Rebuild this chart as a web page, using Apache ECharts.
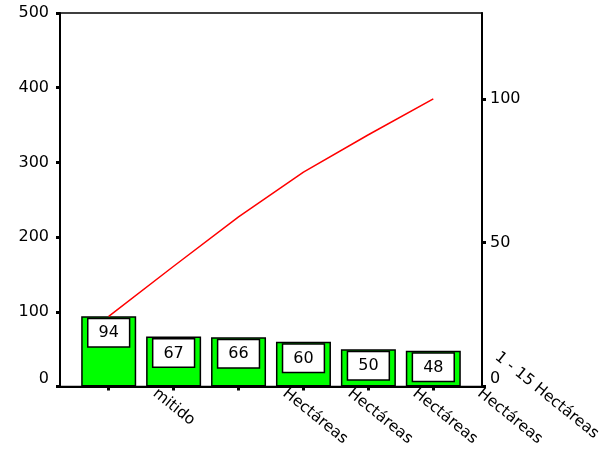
<!DOCTYPE html>
<html><head><meta charset="utf-8">
<script src="https://cdn.jsdelivr.net/npm/echarts@6/dist/echarts.min.js"></script>
<style>html,body{margin:0;padding:0;background:#fff}#c{width:604px;height:449px}</style>
</head><body><div id="c"></div>
<script>
// ---- data ----
const barValues = [94, 67, 66, 60, 50, 48];
const cumulativeValues = [94, 161, 227, 287, 337, 385];
const categoryLabels = ["", "mitido", "", "Hectáreas", "Hectáreas", "Hectáreas", "Hectáreas"];
const extraLabels = ["1 - 15 Hectáreas"];
const leftTicks = [0, 100, 200, 300, 400, 500];
const rightTicks = [0, 50, 100];
const total = 385;

// ---- layout / style ----
const FONT = 'DejaVu Sans';
const LABEL_SHIFT = 0.29;
const xMin = -0.75, xMax = 5.75;
const unitPx = 422 / (xMax - xMin);
const xMax2 = xMin + 544 / unitPx;
const EXTRA_AT = 6.0;

const chart = echarts.init(document.getElementById('c'), null, {renderer: 'canvas'});
const zeroRaise = (v) => v === 0 ? '{z|0}' : String(v);
const tickStyle = {color: '#000', width: 3};
const axisLineStyle = {color: '#000', width: 2};

const option = {
  animation: false,
  backgroundColor: '#fff',
  grid: [
    {left: 60, right: 122, top: 13, bottom: 62, show: true, borderColor: '#000', borderWidth: 1.5, backgroundColor: '#fff'},
    {left: 60, right: 0, top: 13, bottom: 62}
  ],
  xAxis: [
    {type: 'value', gridIndex: 0, min: xMin, max: xMax, splitLine: {show: false},
      axisLine: {show: true, onZero: false, lineStyle: axisLineStyle},
      axisTick: {show: true, customValues: barValues.map((_, i) => i), length: 4, lineStyle: tickStyle},
      axisLabel: {
        customValues: categoryLabels.map((s, i) => s ? i - LABEL_SHIFT : null).filter(v => v !== null),
        formatter: (v) => categoryLabels[Math.round(v + LABEL_SHIFT)],
        rotate: -39, margin: 5, align: 'left', verticalAlign: 'middle',
        fontFamily: FONT, fontSize: 15.5, color: '#000'
      }},
    {type: 'value', gridIndex: 1, min: xMin, max: xMax2, offset: -37, splitLine: {show: false},
      axisLine: {show: false}, axisTick: {show: false},
      axisLabel: {
        customValues: [EXTRA_AT], formatter: () => extraLabels[0],
        rotate: -39, margin: 5, align: 'left', verticalAlign: 'middle',
        fontFamily: FONT, fontSize: 15.5, color: '#000'
      }}
  ],
  yAxis: [
    {type: 'value', gridIndex: 0, position: 'left', min: 0, max: 500, interval: 100,
      splitLine: {show: false},
      axisLine: {show: true, onZero: false, lineStyle: axisLineStyle},
      axisTick: {show: true, length: 4, lineStyle: tickStyle},
      axisLabel: {customValues: leftTicks, formatter: zeroRaise, margin: 11, fontFamily: FONT, fontSize: 16, color: '#000',
        rich: {z: {padding: [0, 0, 16, 0], fontFamily: FONT, fontSize: 16, color: '#000'}}}},
    {type: 'value', gridIndex: 0, position: 'right', min: 0, max: 500 / total * 100,
      splitLine: {show: false},
      axisLine: {show: true, onZero: false, lineStyle: axisLineStyle},
      axisTick: {show: true, customValues: rightTicks, length: 4, lineStyle: tickStyle},
      axisLabel: {customValues: rightTicks, formatter: zeroRaise, margin: 8, fontFamily: FONT, fontSize: 16, color: '#000',
        rich: {z: {padding: [0, 0, 16, 0], fontFamily: FONT, fontSize: 16, color: '#000'}}}},
    {type: 'value', gridIndex: 1, show: false, min: 0, max: 500}
  ],
  series: [
    {type: 'bar', xAxisIndex: 0, yAxisIndex: 0, barWidth: 55,
      data: barValues.map((v, i) => [i, v]),
      itemStyle: {color: '#00ff00', borderColor: '#000', borderWidth: 1.5},
      label: {show: true, position: 'insideTop', distance: 3,
        formatter: (p) => String(p.value[1]),
        backgroundColor: '#fff', borderColor: '#000', borderWidth: 1.5,
        padding: [6, 10, 5, 10], fontFamily: FONT, fontSize: 16, lineHeight: 16, color: '#000'}},
    {type: 'line', xAxisIndex: 0, yAxisIndex: 0, symbol: 'none', z: 3,
      data: cumulativeValues.map((v, i) => [i, v]),
      lineStyle: {color: '#ff0000', width: 1.5}}
  ]
};
chart.setOption(option);
</script>
</body></html>
